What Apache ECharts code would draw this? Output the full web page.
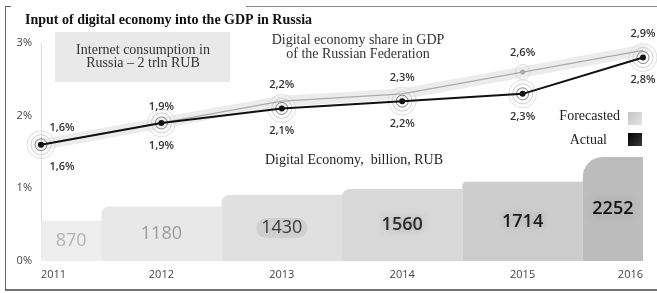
<!DOCTYPE html>
<html>
<head>
<meta charset="utf-8">
<script src="https://cdn.jsdelivr.net/npm/echarts@6/dist/echarts.min.js"></script>
<style>
html,body{margin:0;padding:0;background:#fff;}
#chart{width:657px;height:293px;}
</style>
</head>
<body>
<div id="chart"></div>
<script>
const years = ['2011', '2012', '2013', '2014', '2015', '2016'];
const forecastShare = [1.6, 1.9, 2.2, 2.3, 2.6, 2.9];
const actualShare = [1.6, 1.9, 2.1, 2.2, 2.3, 2.8];
const digitalEconomy = [870, 1180, 1430, 1560, 1714, 2252];
const yTickLabels = ['0%', '1%', '2%', '3%'];
const titleText = 'Input of digital economy into the GDP in Russia';
const noteText = 'Internet consumption in\nRussia \u2013 2 trln RUB';
const shareText = 'Digital economy share in GDP\nof the Russian Federation';
const econText = 'Digital Economy,  billion, RUB';
const legendNames = ['Forecasted', 'Actual'];

const barColors = ['#eeeeee', '#e8e8e8', '#e0e0e0', '#d8d8d8', '#cdcdcd', '#bcbcbc'];
const barLabelColors = ['#b3b3b3', '#9c9c9c', '#3a3a3a', '#2a2a2a', '#1c1c1c', '#111111'];
const barRadius = [0, 8, 8, 8, 4, 20];

const fmtShare = v => (Array.isArray(v) ? v[1] : v).toFixed(1).replace('.', ',') + '%';
const serif = '"Liberation Serif", "Times New Roman", serif';
const sans = '"Open Sans", "Noto Sans", sans-serif';

const chart = echarts.init(document.getElementById('chart'), null, {renderer: 'canvas'});

function renderBar(params, api) {
  const i = params.dataIndex;
  const val = api.value(1);
  const top = api.coord([api.value(0), val]);
  const base = api.coord([api.value(0), 0]);
  const w = api.size([1, 0])[0];
  const cs = params.coordSys;
  const x0 = Math.max(top[0] - w / 2, cs.x);
  const x1 = Math.min(top[0] + w / 2, cs.x + cs.width);
  const labelStyle = {
    text: String(val), fontFamily: sans, fontSize: 18,
    fill: barLabelColors[i], fontWeight: i >= 3 ? 600 : 'normal'
  };
  if (i === 2) {
    labelStyle.backgroundColor = '#cfcfcf';
    labelStyle.borderRadius = 11;
    labelStyle.padding = [1, 5];
  } else if (i >= 3) {
    labelStyle.textShadowColor = 'rgba(150,150,150,0.8)';
    labelStyle.textShadowBlur = 6;
  }
  return {
    type: 'rect',
    shape: {x: x0, y: top[1], width: x1 - x0, height: base[1] - top[1], r: [barRadius[i], 0, 0, 0]},
    style: {fill: barColors[i]},
    textContent: {style: labelStyle},
    textConfig: {position: 'inside'}
  };
}

const forecastData = forecastShare.map((v, i) => ({value: v, symbolSize: i === 4 ? 5 : 0}));

function ring(name, data, size, border, fill, bw) {
  return {
    name: name, type: 'scatter', data: data, symbolSize: size, z: 4, silent: true,
    itemStyle: {color: fill, borderColor: border, borderWidth: bw}
  };
}
const forecastRingData = forecastShare.map((v, i) => i === 4 ? v : '-');
const shiftFirst = p => (p.dataIndex === 0 ? {dx: 21, hideOverlap: false} : {hideOverlap: false});

chart.setOption({
  animation: false,
  title: {
    text: titleText, left: 20, top: 8,
    textStyle: {fontFamily: serif, fontWeight: 'bold', fontSize: 14, color: '#111'}
  },
  grid: {left: 41, right: 14, top: 43, bottom: 32},
  xAxis: {
    type: 'category', data: years, boundaryGap: false,
    axisLine: {show: false}, axisTick: {show: false},
    axisLabel: {
      color: '#444', fontFamily: sans, fontSize: 11, margin: 8,
      alignMinLabel: 'left', alignMaxLabel: 'right'
    }
  },
  yAxis: [{
    type: 'value', min: 0, max: 3, interval: 1,
    splitLine: {show: false},
    axisLine: {show: true, lineStyle: {color: '#dcdcdc', width: 1}},
    axisTick: {show: false},
    axisLabel: {
      color: '#444', fontFamily: sans, fontSize: 11, margin: 9,
      padding: [0, 0, 6, 0],
      formatter: v => yTickLabels[Math.round(v)]
    }
  }, {
    type: 'value', min: 0, max: 4720, show: false, splitLine: {show: false}
  }],
  series: [
    {
      name: 'Digital Economy', type: 'custom', yAxisIndex: 1, z: 1, silent: true,
      data: digitalEconomy.map((v, i) => [i, v]),
      encode: {x: 0, y: 1},
      renderItem: renderBar
    },
    {
      name: 'band', type: 'line', data: forecastShare, symbol: 'none', z: 2, silent: true,
      lineStyle: {color: 'rgba(220,220,220,0.55)', width: 11, cap: 'round'}
    },
    ring('r3', actualShare, 28, '#dadada', 'rgba(240,240,240,0.35)', 1),
    ring('r2', actualShare, 20, '#c8c8c8', 'rgba(255,255,255,0)', 1),
    ring('r1', actualShare, 12, '#6a6a6a', 'rgba(255,255,255,0)', 1),
    ring('fr2', forecastRingData, 15, '#d4d4d4', 'rgba(235,235,235,0.3)', 1),
    {
      name: 'Forecasted', type: 'line', data: forecastData, z: 5, silent: true,
      symbol: 'circle', itemStyle: {color: '#a8a8a8'},
      lineStyle: {color: '#ababab', width: 1.3},
      label: {
        show: true, position: 'top', distance: 11, formatter: p => fmtShare(p.value),
        fontFamily: sans, fontSize: 11, fontWeight: 600, color: '#333'
      },
      labelLayout: shiftFirst
    },
    {
      name: 'Actual', type: 'line', data: actualShare, z: 6, silent: true,
      symbol: 'circle', symbolSize: 6, itemStyle: {color: '#111'},
      lineStyle: {color: '#111', width: 2},
      label: {
        show: true, position: 'bottom', distance: 14, formatter: p => fmtShare(p.value),
        fontFamily: sans, fontSize: 11, fontWeight: 600, color: '#333'
      },
      labelLayout: shiftFirst
    }
  ],
  graphic: [
    {type: 'line', shape: {x1: 5.5, y1: 6, x2: 5.5, y2: 290}, style: {stroke: '#666', lineWidth: 1}, z: 0},
    {type: 'line', shape: {x1: 5, y1: 6.5, x2: 11, y2: 6.5}, style: {stroke: '#666', lineWidth: 1}, z: 0},
    {type: 'line', shape: {x1: 246, y1: 6.5, x2: 657, y2: 6.5}, style: {stroke: '#888', lineWidth: 1}, z: 0},
    {type: 'line', shape: {x1: 5, y1: 290, x2: 657, y2: 290}, style: {stroke: '#444', lineWidth: 1.5}, z: 0},
    {type: 'rect', shape: {x: 55, y: 32, width: 175, height: 50}, style: {fill: '#e9e9e9'}, z: 0},
    {type: 'text', x: 143, y: 57, z: 10, style: {
      text: noteText, fontFamily: serif, fontSize: 14, fill: '#333', lineHeight: 13,
      align: 'center', verticalAlign: 'middle'}},
    {type: 'text', x: 358, y: 47, z: 10, style: {
      text: shareText, fontFamily: serif, fontSize: 14, fill: '#333', lineHeight: 14,
      align: 'center', verticalAlign: 'middle'}},
    {type: 'text', x: 354, y: 160, z: 10, style: {
      text: econText, fontFamily: serif, fontSize: 14, fill: '#222',
      align: 'center', verticalAlign: 'middle'}},
    {type: 'text', x: 620, y: 116, z: 10, style: {
      text: legendNames[0], fontFamily: serif, fontSize: 14, fill: '#222',
      align: 'right', verticalAlign: 'middle'}},
    {type: 'text', x: 607, y: 140, z: 10, style: {
      text: legendNames[1], fontFamily: serif, fontSize: 14, fill: '#222',
      align: 'right', verticalAlign: 'middle'}},
    {type: 'rect', shape: {x: 628, y: 112, width: 14, height: 13}, z: 10, style: {
      fill: new echarts.graphic.LinearGradient(0, 0, 1, 1, [{offset: 0, color: '#c4c4c4'}, {offset: 1, color: '#e4e4e4'}])}},
    {type: 'rect', shape: {x: 628, y: 133, width: 14, height: 13}, z: 10, style: {
      fill: new echarts.graphic.LinearGradient(0, 0, 1, 1, [{offset: 0, color: '#000'}, {offset: 1, color: '#3a3a3a'}])}}
  ]
});
</script>
</body>
</html>
